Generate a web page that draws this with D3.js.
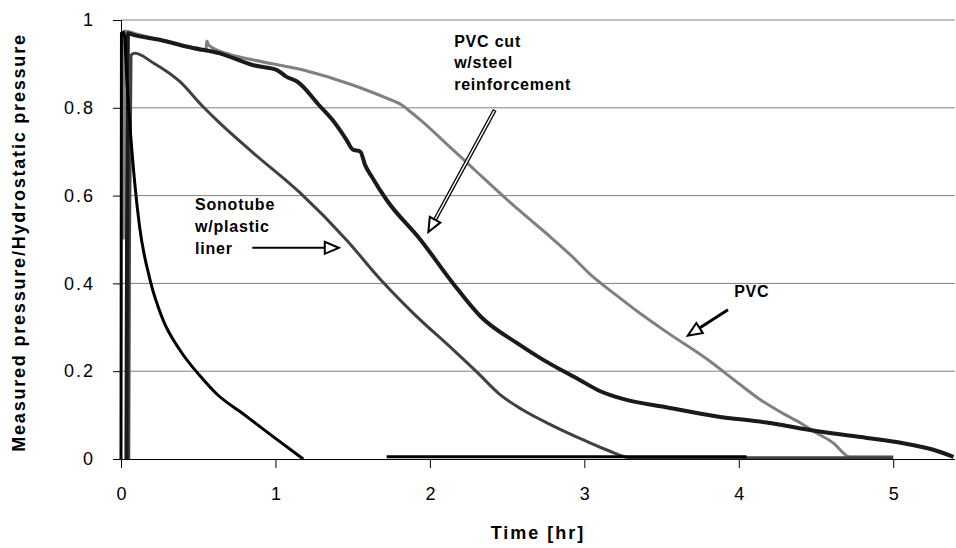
<!DOCTYPE html>
<html>
<head>
<meta charset="UTF-8">
<title>Pressure decay</title>
<script src="https://d3js.org/d3.v7.min.js"></script>
<style>
  body { margin: 0; background: #fff; }
  text { font-family: Arial, "Liberation Sans", sans-serif; }
</style>
</head>
<body>
<div id="chart"></div>
<script>
// ---- data: [time hr, measured/hydrostatic] ----
var pvc = [
  [0.015,0.50],[0.02,0.975],[0.10,0.968],[0.25,0.955],[0.40,0.942],[0.55,0.93],[0.555,0.952],
  [0.57,0.942],[0.70,0.922],[0.857,0.909],[1.18,0.886],[1.50,0.852],[1.72,0.822],[1.80,0.81],
  [1.82,0.806],[1.86,0.795],[1.94,0.772],[2.15,0.704],[2.31,0.652],[2.43,0.613],[2.60,0.56],
  [2.78,0.506],[2.91,0.465],[3.04,0.42],[3.20,0.375],[3.36,0.332],[3.55,0.285],[3.80,0.226],
  [4.00,0.172],[4.14,0.135],[4.28,0.105],[4.40,0.082],[4.50,0.06],[4.61,0.037],[4.72,0.005],
  [5.0,0.005]
];
var sonotube = [
  [0.05,0.0],[0.055,0.5],[0.065,0.92],[0.09,0.924],[0.21,0.902],[0.38,0.86],[0.53,0.803],
  [0.64,0.765],[0.857,0.697],[1.16,0.606],[1.46,0.499],[1.68,0.409],[1.89,0.333],[2.15,0.249],
  [2.31,0.196],[2.45,0.148],[2.60,0.112],[2.80,0.075],[2.99,0.044],[3.15,0.02],[3.30,0.003],
  [5.0,0.003]
];
var pvcCut = [
  [0.035,0.0],[0.04,0.6],[0.045,0.97],[0.08,0.966],[0.25,0.955],[0.43,0.939],[0.64,0.924],
  [0.857,0.897],[1.01,0.886],[1.07,0.871],[1.14,0.86],[1.29,0.803],[1.37,0.772],[1.46,0.727],
  [1.50,0.705],[1.55,0.70],[1.58,0.67],[1.62,0.645],[1.72,0.59],[1.94,0.499],[2.15,0.40],
  [2.33,0.324],[2.56,0.265],[2.71,0.231],[2.97,0.18],[3.10,0.155],[3.25,0.137],[3.53,0.118],
  [3.86,0.097],[4.18,0.083],[4.51,0.063],[4.83,0.048],[5.05,0.037],[5.26,0.021],[5.39,0.005]
];
var fast = [
  [0.0,0.0],[0.003,0.97],[0.02,0.972],[0.04,0.85],[0.06,0.75],[0.09,0.625],[0.12,0.53],
  [0.188,0.408],[0.272,0.317],[0.38,0.249],[0.51,0.19],[0.62,0.148],[0.79,0.103],
  [0.985,0.051],[1.18,0.0],null,[1.72,0.005],[4.05,0.005]
];
var yTicks = [0, 0.2, 0.4, 0.6, 0.8, 1];
var xTicks = [0, 1, 2, 3, 4, 5];

// annotation labels and arrows, in data units
var labels = [
  {lines: ["PVC cut", "w/steel", "reinforcement"], t: 2.157, v: [0.938, 0.890, 0.841]},
  {lines: ["Sonotube", "w/plastic", "liner"], t: 0.479, v: [0.567, 0.517, 0.467]},
  {lines: ["PVC"], t: 3.97, v: [0.37]}
];
var arrows = [
  {from: [2.42, 0.795], to: [1.99, 0.517], hollow: true},
  {from: [0.85, 0.481], to: [1.41, 0.481], w: 2},
  {from: [3.93, 0.34], to: [3.67, 0.281], w: 3}
];

// ---- layout ----
var margin = {top: 20, right: 1, bottom: 89, left: 121},
    width = 956 - margin.left - margin.right,
    height = 548 - margin.top - margin.bottom;

var x = d3.scaleLinear().domain([0, 5.4]).range([0, width]);
var y = d3.scaleLinear().domain([0, 1]).range([height, 0]);

var svg = d3.select("#chart").append("svg")
    .attr("width", 956).attr("height", 548)
  .append("g")
    .attr("transform", "translate(" + margin.left + "," + margin.top + ")");

// grid
svg.selectAll(".grid").data(yTicks.slice(1)).enter().append("line")
    .attr("x1", 0).attr("x2", width)
    .attr("y1", function(d) { return y(d); }).attr("y2", function(d) { return y(d); })
    .attr("stroke", "#808080").attr("stroke-width", 1);

// axes
var yAxis = svg.append("g")
    .call(d3.axisLeft(y).tickValues(yTicks).tickSize(8).tickPadding(18)
      .tickFormat(function(d) { return d; }));
var xAxis = svg.append("g").attr("transform", "translate(0," + height + ")")
    .call(d3.axisBottom(x).tickValues(xTicks).tickSize(9).tickPadding(19).tickFormat(d3.format("d")));
[xAxis, yAxis].forEach(function(a) {
  a.select(".domain").attr("stroke", "#000");
  a.selectAll(".tick line").attr("stroke", "#000");
  a.selectAll("text").attr("fill", "#000").style("font-size", "18px")
    .style("font-family", "Arial, 'Liberation Sans', sans-serif").style("letter-spacing", "2px");
});
xAxis.selectAll("text").attr("dx", "1px");
xAxis.select(".domain").attr("d", "M0,0.5H" + width);

// lines
var line = d3.line()
    .defined(function(d) { return d !== null; })
    .curve(d3.curveMonotoneX)
    .x(function(d) { return x(d[0]); })
    .y(function(d) { return y(d[1]); });

var series = [
  {data: pvc, color: "#808080", w: 3},
  {data: sonotube, color: "#404040", w: 3},
  {data: pvcCut, color: "#1a1a1a", w: 4},
  {data: fast, color: "#000000", w: 3}
];
svg.selectAll(".series").data(series).enter().append("path")
    .attr("fill", "none")
    .attr("stroke", function(d) { return d.color; })
    .attr("stroke-width", function(d) { return d.w; })
    .attr("stroke-linejoin", "round")
    .attr("d", function(d) { return line(d.data); });

// annotation text
labels.forEach(function(l) {
  l.lines.forEach(function(s, i) {
    svg.append("text")
        .attr("x", x(l.t)).attr("y", y(l.v[i]))
        .style("font-size", "16px").style("font-weight", "bold")
        .style("letter-spacing", "0.8px")
        .text(s);
  });
});

// arrows
function drawArrow(a) {
  var x1 = x(a.from[0]), y1 = y(a.from[1]), x2 = x(a.to[0]), y2 = y(a.to[1]);
  var ang = Math.atan2(y2 - y1, x2 - x1);
  var len = 14, half = 6;
  var bx = x2 - len * Math.cos(ang), by = y2 - len * Math.sin(ang);
  var px = -Math.sin(ang) * half, py = Math.cos(ang) * half;
  var head = [[x2, y2], [bx + px, by + py], [bx - px, by - py]];
  if (a.hollow) {
    svg.append("line").attr("x1", x1).attr("y1", y1).attr("x2", bx).attr("y2", by)
        .attr("stroke", "#000").attr("stroke-width", 4);
    svg.append("line").attr("x1", x1 + Math.cos(ang)).attr("y1", y1 + Math.sin(ang))
        .attr("x2", bx).attr("y2", by)
        .attr("stroke", "#fff").attr("stroke-width", 1.5);
  } else {
    svg.append("line").attr("x1", x1).attr("y1", y1).attr("x2", bx).attr("y2", by)
        .attr("stroke", "#000").attr("stroke-width", a.w);
  }
  svg.append("path").attr("d", "M" + head.join("L") + "Z")
      .attr("fill", "#fff").attr("stroke", "#000").attr("stroke-width", 2)
      .attr("stroke-linejoin", "miter");
}
arrows.forEach(drawArrow);

// axis titles
svg.append("text")
    .attr("x", width / 2).attr("y", height + 80)
    .attr("text-anchor", "middle")
    .style("font-size", "18px").style("font-weight", "bold").style("letter-spacing", "2px")
    .text("Time [hr]");
svg.append("text")
    .attr("transform", "translate(" + (25 - margin.left) + "," + (height / 2 + 3) + ") rotate(-90)")
    .attr("text-anchor", "middle")
    .style("font-size", "18px").style("font-weight", "bold").style("letter-spacing", "1.8px")
    .text("Measured pressure/Hydrostatic pressure");
</script>
</body>
</html>
